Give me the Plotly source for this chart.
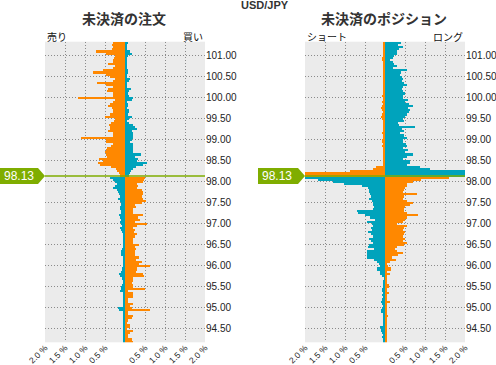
import plotly.graph_objects as go

W, H = 496, 365
CURRENT_PRICE = 98.13
TOP_BUCKET = 101.30
BUCKET_SIZE = 0.05
N_BUCKETS = 143
# bucket centre prices, from the top of the chart downwards
prices = [round(TOP_BUCKET - BUCKET_SIZE * i, 2) for i in range(N_BUCKETS)]

# ---- Open orders (未決済の注文): left = sell (売り), right = buy (買い), in % ----
order_sell = [
    0.3, 0.32, 0.3, 0.33, 0.72, 0.47, 0.25, 0.27, 0.29, 0.31, 0.42, 0.25, 0.3, 0.54, 0.79, 0.47, 0.37, 0.25, 0.3, 0.71,
    0.47, 0.29, 0.42, 0.44, 0.3, 0.29, 1.17, 0.25, 0.29, 0.37, 0.42, 0.33, 0.3, 0.29, 0.37, 0.5, 0.25, 0.28,
    0.35, 0.4, 0.38, 0.37, 0.42, 0.3, 0.29, 1.1, 0.47, 0.47, 0.29, 0.35, 0.46, 0.47, 0.5, 0.47, 0.46, 0.65, 0.54, 0.68,
    0.62, 0.35, 0.22, 0.2, 0.15, 0.12,
    0.37, 0.3, 0.25, 0.19, 0.25, 0.29, 0.21, 0.17, 0.14, 0.12, 0.17, 0.12, 0.11, 0.1, 0.12, 0.12, 0.11, 0.11, 0.14, 0.12,
    0.1, 0.12, 0.11, 0.08, 0.12, 0.11, 0.08, 0.06, 0.05, 0.05,
    0.04, 0.05, 0.06, 0.04, 0.08, 0.11, 0.1, 0.1, 0.06, 0.04, 0.06, 0.06, 0.04, 0.08, 0.08, 0.1, 0.14, 0.12, 0.08, 0.04,
    0.06, 0.08, 0.1, 0.11, 0.12, 0.04, 0.04, 0.06, 0.04, 0.04, 0.04, 0.03, 0.17, 0.14, 0.04, 0.05, 0.06, 0.04, 0.04, 0.03,
    0.05, 0.04, 0.04, 0.05, 0.06, 0.03, 0.05, 0.04, 0.05,
]
order_buy = [
    0.07, 0.05, 0.05, 0.05, 0.12, 0.17, 0.08, 0.05, 0.06, 0.05, 0.06, 0.05, 0.06, 0.07, 0.08, 0.05, 0.06, 0.12, 0.1, 0.06,
    0.05, 0.05, 0.14, 0.09, 0.08, 0.1, 0.19, 0.17, 0.06, 0.07, 0.08, 0.06, 0.1, 0.09, 0.07, 0.17, 0.1, 0.06,
    0.11, 0.21, 0.25, 0.29, 0.17, 0.19, 0.19, 0.21, 0.17, 0.13, 0.21, 0.2, 0.19, 0.21, 0.21, 0.39, 0.25, 0.33, 0.29, 0.54,
    0.46, 0.27, 0.2, 0.14, 0.12, 0.1,
    0.5, 0.48, 0.46, 0.29, 0.33, 0.31, 0.42, 0.44, 0.46, 0.42, 0.44, 0.52, 0.42, 0.25, 0.28, 0.19, 0.21, 0.21, 0.46, 0.33,
    0.37, 0.25, 0.54, 0.29, 0.21, 0.25, 0.23, 0.29, 0.25, 0.21,
    0.21, 0.21, 0.36, 0.25, 0.27, 0.25, 0.25, 0.25, 0.36, 0.27, 0.42, 0.36, 0.62, 0.31, 0.31, 0.27, 0.46, 0.48, 0.21, 0.19,
    0.17, 0.19, 0.19, 0.5, 0.08, 0.21, 0.21, 0.19, 0.08, 0.08, 0.21, 0.12, 0.17, 0.62, 0.08, 0.08, 0.19, 0.17, 0.08, 0.06,
    0.12, 0.12, 0.06, 0.21, 0.12, 0.08, 0.08, 0.17, 0.21,
]

# ---- Open positions (未決済のポジション): left = short (ショート), right = long (ロング), in % ----
pos_short = [
    0.04, 0.05, 0.03, 0.06, 0.04, 0.03, 0.05, 0.08, 0.07, 0.04, 0.03, 0.05, 0.04, 0.03, 0.04, 0.05, 0.03, 0.06, 0.04, 0.05,
    0.03, 0.04, 0.06, 0.05, 0.04, 0.07, 0.05, 0.06, 0.08, 0.06, 0.07, 0.1, 0.08, 0.06, 0.07, 0.09, 0.08, 0.06,
    0.05, 0.06, 0.03, 0.04, 0.06, 0.08, 0.04, 0.06, 0.07, 0.07, 0.04, 0.08, 0.06, 0.03, 0.04, 0.04, 0.04, 0.03, 0.06, 0.04,
    0.04, 0.22, 0.3, 0.87, 2.5, 2.5,
    2.5, 1.68, 1.29, 1.02, 0.58, 0.42, 0.4, 0.39, 0.37, 0.36, 0.39, 0.33, 0.29, 0.31, 0.27, 0.3, 0.71, 0.67, 0.5, 0.37,
    0.25, 0.46, 0.33, 0.31, 0.36, 0.33, 0.42, 0.35, 0.29, 0.39,
    0.35, 0.29, 0.39, 0.42, 0.27, 0.46, 0.44, 0.46, 0.44, 0.27, 0.21, 0.14, 0.12, 0.19, 0.19, 0.12, 0.12, 0.08, 0.02, 0.04,
    0.06, 0.06, 0.04, 0.08, 0.08, 0.06, 0.08, 0.04, 0.08, 0.1, 0.08, 0.06, 0.08, 0.11, 0.11, 0.06, 0.04, 0.04, 0.06, 0.03,
    0.06, 0.12, 0.11, 0.11, 0.08, 0.04, 0.08, 0.06, 0.04,
]
pos_long = [
    0.39, 0.33, 0.44, 0.36, 0.3, 0.29, 0.23, 0.19, 0.13, 0.21, 0.23, 0.29, 0.21, 0.54, 0.39, 0.37, 0.42, 0.46, 0.42, 0.47,
    0.56, 0.46, 0.42, 0.44, 0.5, 0.46, 0.46, 0.58, 0.5, 0.61, 0.71, 0.58, 0.62, 0.61, 0.54, 0.5, 0.46, 0.48,
    0.32, 0.36, 0.75, 0.42, 0.47, 0.37, 0.47, 0.54, 0.44, 0.44, 0.52, 0.54, 0.46, 0.58, 0.5, 0.71, 0.54, 0.44, 0.62, 0.62,
    0.54, 0.87, 1.12, 2.5, 2.5, 2.5,
    1.6, 0.9, 0.71, 0.54, 0.54, 0.5, 0.48, 0.44, 0.79, 0.47, 0.46, 0.54, 0.71, 0.62, 0.5, 0.47, 0.47, 0.54, 0.83, 0.54,
    0.5, 0.46, 0.29, 0.54, 0.47, 0.46, 0.5, 0.48, 0.46, 0.5,
    0.46, 0.54, 0.47, 0.29, 0.25, 0.29, 0.44, 0.33, 0.17, 0.27, 0.12, 0.06, 0.08, 0.14, 0.14, 0.06, 0.12, 0.04, 0.04, 0.03,
    0.04, 0.11, 0.11, 0.03, 0.03, 0.09, 0.06, 0.04, 0.03, 0.12, 0.06, 0.04, 0.04, 0.04, 0.04, 0.06, 0.08, 0.03, 0.04, 0.04,
    0.06, 0.03, 0.04, 0.03, 0.03, 0.03, 0.04, 0.03, 0.03,
]

X_TICKS = [-2.0, -1.5, -1.0, -0.5, 0.5, 1.0, 1.5, 2.0]
X_LABELS = ["2.0 %", "1.5 %", "1.0 %", "0.5 %", "0.5 %", "1.0 %", "1.5 %", "2.0 %"]
Y_TICKS = [94.5, 95.0, 95.5, 96.0, 96.5, 97.0, 97.5, 98.0, 98.5, 99.0, 99.5, 100.0, 100.5, 101.0]
Y_RANGE = [94.175, 101.325]

ORANGE = "#ff8800"
TEAL = "#00a3bc"
GREEN = "#7fad00"
TEXT = "#333333"


def px(x):
    return x / W


def py(y):
    return 1 - y / H


def colors(left_side):
    out = []
    for p in prices:
        above = p > CURRENT_PRICE
        if left_side:
            out.append(ORANGE if above else TEAL)
        else:
            out.append(TEAL if above else ORANGE)
    return out


fig = go.Figure()
panels = [("x", "y", order_sell, order_buy), ("x2", "y2", pos_short, pos_long)]
for xa, ya, left_vals, right_vals in panels:
    fig.add_trace(go.Bar(y=prices, x=[-v for v in left_vals], orientation="h", width=BUCKET_SIZE,
                         marker=dict(color=colors(True), line=dict(width=0)),
                         xaxis=xa, yaxis=ya, hoverinfo="skip"))
    fig.add_trace(go.Bar(y=prices, x=right_vals, orientation="h", width=BUCKET_SIZE,
                         marker=dict(color=colors(False), line=dict(width=0)),
                         xaxis=xa, yaxis=ya, hoverinfo="skip"))

PLOT_TOP, PLOT_BOTTOM = 41.7, 342.3
GRID = dict(showgrid=True, gridcolor="#8a8a8a", griddash="1px,2px", gridwidth=1)
x_common = dict(range=[-2, 2], tickvals=X_TICKS, ticktext=X_LABELS, tickangle=-45,
                tickfont=dict(size=8.5, color="#222222"), ticks="", ticklabelstandoff=-2,
                zeroline=False, showline=False, fixedrange=True, automargin=False, **GRID)
y_common = dict(range=Y_RANGE, tickvals=Y_TICKS, tickformat=".2f", side="right",
                tickfont=dict(size=10, color="#222222"), ticks="",
                zeroline=False, showline=False, fixedrange=True, automargin=False,
                domain=[py(PLOT_BOTTOM), py(PLOT_TOP)], **GRID)

fig.update_layout(
    width=W, height=H, margin=dict(l=0, r=0, t=0, b=0, autoexpand=False),
    paper_bgcolor="white", plot_bgcolor="#ebebeb",
    barmode="overlay", bargap=0, showlegend=False,
    font=dict(family="Liberation Sans, Arial, sans-serif", color=TEXT),
    xaxis=dict(domain=[px(45), px(205)], anchor="y", **x_common),
    yaxis=dict(anchor="x", **y_common),
    xaxis2=dict(domain=[px(305), px(465)], anchor="y2", **x_common),
    yaxis2=dict(anchor="x2", **y_common),
)

# current price line + tags
shapes = []
annotations = []
dom = y_common["domain"]
y_cur = dom[0] + (CURRENT_PRICE - Y_RANGE[0]) / (Y_RANGE[1] - Y_RANGE[0]) * (dom[1] - dom[0])
half = 8 / H
for xref, yref, tag_left, tip in [("x domain", "y", 0, 45), ("x2 domain", "y2", 258, 305)]:
    shapes.append(dict(type="line", xref=xref, yref=yref, x0=0, x1=1, y0=CURRENT_PRICE, y1=CURRENT_PRICE,
                       line=dict(color=GREEN, width=1.5), layer="above"))
    path = (f"M {px(tag_left)},{y_cur + half} L {px(tip - 7)},{y_cur + half} L {px(tip)},{y_cur} "
            f"L {px(tip - 7)},{y_cur - half} L {px(tag_left)},{y_cur - half} Z")
    shapes.append(dict(type="path", xref="paper", yref="paper", path=path,
                       fillcolor=GREEN, line=dict(width=0), layer="above"))
    annotations.append(dict(x=px(tag_left + 2), y=y_cur, xref="paper", yref="paper", text=f"{CURRENT_PRICE:.2f}",
                            showarrow=False, xanchor="left", yanchor="middle",
                            font=dict(size=12, color="white", family="Liberation Sans, Arial")))

cjk = "Noto Sans CJK JP, sans-serif"
annotations += [
    dict(x=px(265), y=py(5), text="<b>USD/JPY</b>", font=dict(size=11, color=TEXT)),
    dict(x=px(124), y=py(18), text="<b>未決済の注文</b>", font=dict(size=14, color=TEXT, family=cjk)),
    dict(x=px(384), y=py(18), text="<b>未決済のポジション</b>", font=dict(size=14, color=TEXT, family=cjk)),
    dict(x=px(45), y=py(36), text="売り", xanchor="left", font=dict(size=10, color="#111111", family=cjk)),
    dict(x=px(205), y=py(36), text="買い", xanchor="right", font=dict(size=10, color="#111111", family=cjk)),
    dict(x=px(305), y=py(36), text="ショート", xanchor="left", font=dict(size=10, color="#111111", family=cjk)),
    dict(x=px(465), y=py(36), text="ロング", xanchor="right", font=dict(size=10, color="#111111", family=cjk)),
]
for a in annotations[2:]:
    a.setdefault("xref", "paper")
    a.setdefault("yref", "paper")
    a.setdefault("showarrow", False)
    a.setdefault("yanchor", "middle")
    a.setdefault("xanchor", "center")

fig.update_layout(shapes=shapes, annotations=annotations)
fig.write_html("out.html", config={"displayModeBar": False},
               post_script="document.body.style.margin='0px';")
